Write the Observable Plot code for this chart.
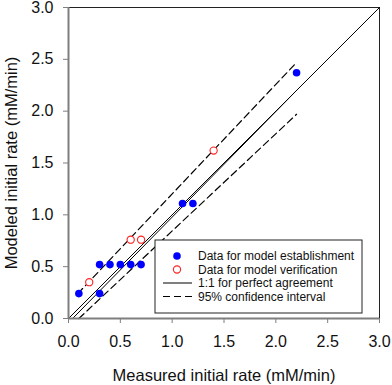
<!DOCTYPE html>
<html>
<head>
<meta charset="utf-8">
<script src="https://cdn.jsdelivr.net/npm/d3@7"></script>
<script src="https://cdn.jsdelivr.net/npm/@observablehq/plot@0.6"></script>
<style>
  body { margin: 0; background: #fff; }
  svg { font-family: "Liberation Sans", Arial, sans-serif; }
</style>
</head>
<body>
<div id="chart"></div>
<script>
// Data for model establishment (filled blue)
const estX = [0.1, 0.3, 0.3, 0.4, 0.5, 0.6, 0.7, 1.1, 1.2, 2.2];
const estY = [0.24, 0.24, 0.52, 0.52, 0.52, 0.52, 0.52, 1.11, 1.11, 2.37];
// Data for model verification (open red)
const verX = [0.2, 0.6, 0.7, 1.4];
const verY = [0.35, 0.76, 0.76, 1.62];
// 1:1 line
const oneX = [0, 3];
const oneY = [0, 3];
// fitted line
const fitX = [0.04, 2.2];
const fitY = [0, 2.2];
// 95% confidence interval lines
const ciUpX = [0.09, 2.2];
const ciUpY = [0.24, 2.47];
const ciLoX = [0.1, 2.2];
const ciLoY = [0, 1.97];
// ticks
const ticks = [0, 0.5, 1.0, 1.5, 2.0, 2.5, 3.0];
const legendLabels = ["Data for model establishment", "Data for model verification", "1:1 for perfect agreement", "95% confidence interval"];

const est = estX.map((x, i) => ({x, y: estY[i]}));
const ver = verX.map((x, i) => ({x, y: verY[i]}));
const toPts = (xs, ys) => xs.map((x, i) => ({x, y: ys[i]}));

const fmt = d3.format(".1f");
const axisGray = "#7f7f7f";

const chart = Plot.plot({
  width: 392,
  height: 385,
  marginLeft: 68,
  marginRight: 13,
  marginTop: 7,
  marginBottom: 67,
  style: {fontFamily: '"Liberation Sans", Arial, sans-serif', fontSize: "16px", background: "#fff", overflow: "visible"},
  x: {domain: [0, 3]},
  y: {domain: [0, 3]},
  marks: [
    Plot.ruleY([3], {stroke: "#222", strokeWidth: 1}),
    Plot.ruleX([3], {stroke: "#222", strokeWidth: 1}),
    Plot.line(toPts(oneX, oneY), {x: "x", y: "y", stroke: "#000", strokeWidth: 1}),
    Plot.line(toPts(fitX, fitY), {x: "x", y: "y", stroke: "#000", strokeWidth: 1}),
    Plot.line(toPts(ciUpX, ciUpY), {x: "x", y: "y", stroke: "#000", strokeWidth: 1.2, strokeDasharray: "7,4"}),
    Plot.line(toPts(ciLoX, ciLoY), {x: "x", y: "y", stroke: "#000", strokeWidth: 1.2, strokeDasharray: "7,4"}),
    Plot.dot(est, {x: "x", y: "y", r: 3.8, fill: "#0000ff", stroke: "none"}),
    Plot.dot(ver, {x: "x", y: "y", r: 3.6, fill: "#fff", stroke: "#ff2020", strokeWidth: 1.1}),
    Plot.ruleX([0], {stroke: axisGray, strokeWidth: 2}),
    Plot.ruleY([0], {stroke: axisGray, strokeWidth: 2}),
    Plot.axisX({ticks, tickFormat: fmt, tickSize: 5, tickPadding: 12, stroke: axisGray, color: "#111", fontSize: 16, label: null}),
    Plot.axisY({ticks, tickFormat: fmt, tickSize: 5, tickPadding: 10, stroke: axisGray, color: "#111", fontSize: 16, label: null}),
    Plot.text(["Measured initial rate (mM/min)"], {frameAnchor: "bottom", lineAnchor: "middle", textAnchor: "middle", dy: 57, fontSize: 16.5, fill: "#111"}),
    Plot.text(["Modeled initial rate (mM/min)"], {frameAnchor: "left", textAnchor: "middle", lineAnchor: "middle", dx: -57, rotate: -90, fontSize: 16.5, fill: "#111"})
  ]
});

// legend box inside the plot
const svg = d3.select(chart);
const g = svg.append("g").attr("class", "legend").attr("text-anchor", "start");
const lx = 155, ly = 240, lw = 207, lh = 73;
g.append("rect").attr("x", lx).attr("y", ly).attr("width", lw).attr("height", lh)
  .attr("fill", "#fff").attr("stroke", "#222").attr("stroke-width", 1);
const rows = [256, 269.5, 283, 296.5];
g.append("circle").attr("cx", 177).attr("cy", rows[0]).attr("r", 3.8).attr("fill", "#0000ff");
g.append("circle").attr("cx", 177).attr("cy", rows[1]).attr("r", 3.6).attr("fill", "#fff").attr("stroke", "#ff2020").attr("stroke-width", 1.1);
g.append("line").attr("x1", 163).attr("x2", 192).attr("y1", rows[2]).attr("y2", rows[2]).attr("stroke", "#000");
g.append("line").attr("x1", 163).attr("x2", 192).attr("y1", rows[3]).attr("y2", rows[3]).attr("stroke", "#000").attr("stroke-width", 1.2).attr("stroke-dasharray", "7,4");
legendLabels.forEach((t, i) => {
  g.append("text").attr("x", 198).attr("y", rows[i]).attr("dy", "0.35em")
    .attr("text-anchor", "start").attr("font-size", 12).attr("fill", "#111").text(t);
});

document.getElementById("chart").appendChild(chart);
</script>
</body>
</html>
